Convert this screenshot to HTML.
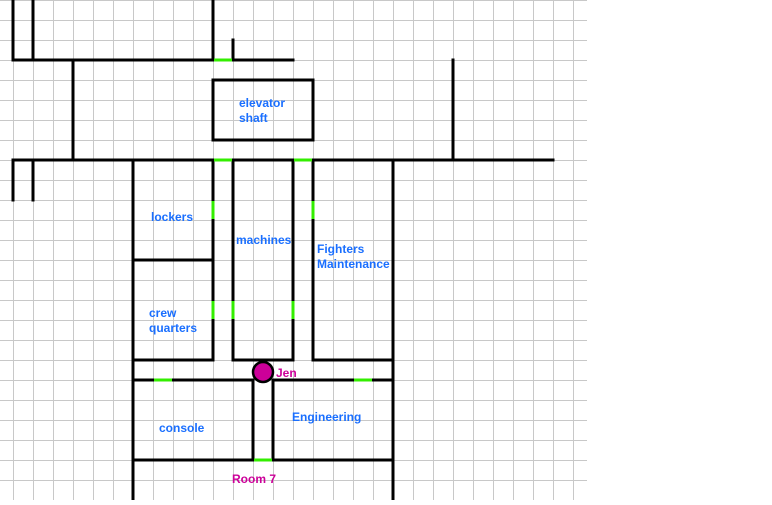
<!DOCTYPE html>
<html><head><style>
body{margin:0;background:#fff;width:772px;height:500px;overflow:hidden}
text{font-family:"Liberation Sans",Arial,sans-serif;font-size:12px;font-weight:bold}
</style></head><body>
<svg width="772" height="500" xmlns="http://www.w3.org/2000/svg">
<g stroke="#c8c8c8" stroke-width="1" shape-rendering="crispEdges">
<path d="M13.5 0V500M33.5 0V500M53.5 0V500M73.5 0V500M93.5 0V500M113.5 0V500M133.5 0V500M153.5 0V500M173.5 0V500M193.5 0V500M213.5 0V500M233.5 0V500M253.5 0V500M273.5 0V500M293.5 0V500M313.5 0V500M333.5 0V500M353.5 0V500M373.5 0V500M393.5 0V500M413.5 0V500M433.5 0V500M453.5 0V500M473.5 0V500M493.5 0V500M513.5 0V500M533.5 0V500M553.5 0V500M573.5 0V500"/>
<path d="M0 0.5H587M0 20.5H587M0 40.5H587M0 60.5H587M0 80.5H587M0 100.5H587M0 120.5H587M0 140.5H587M0 160.5H587M0 180.5H587M0 200.5H587M0 220.5H587M0 240.5H587M0 260.5H587M0 280.5H587M0 300.5H587M0 320.5H587M0 340.5H587M0 360.5H587M0 380.5H587M0 400.5H587M0 420.5H587M0 440.5H587M0 460.5H587M0 480.5H587"/>
</g>
<g stroke="#000" stroke-width="3" fill="none" stroke-linecap="square">
<path d="M13 0V60M33 0V60M213 0V60M233 40V60M13 60H293M73 60V160"/>
<rect x="213" y="80" width="100" height="60"/>
<path d="M13 160H553M13 160V200M33 160V200M453 60V160"/>
<path d="M133 160V500M213 160V360M233 160V360M293 160V360M313 160V360M393 160V500"/>
<path d="M133 260H213M133 360H213M233 360H293M313 360H393M133 380H253M273 380H393M253 380V460M273 380V460M133 460H393"/>
</g>
<g stroke="#33ee00" stroke-width="3">
<path d="M214 60H232M214 160H232M294 160H312M213 201V219M213 301V319M233 301V319M293 301V319M313 201V219M154 380H172M354 380H372M254 460H272"/>
</g>
<circle cx="263" cy="372" r="10" fill="#cc0099" stroke="#000" stroke-width="2.5"/>
<g fill="#1a6fff">
<text x="239" y="107">elevator</text><text x="239" y="122">shaft</text>
<text x="151" y="221">lockers</text>
<text x="236" y="244">machines</text>
<text x="317" y="253">Fighters</text><text x="317" y="268">Maintenance</text>
<text x="149" y="317">crew</text><text x="149" y="332">quarters</text>
<text x="159" y="432">console</text>
<text x="292" y="421">Engineering</text>
</g>
<g fill="#cc0099">
<text x="276" y="377">Jen</text>
<text x="232" y="483">Room 7</text>
</g>
</svg>
</body></html>
